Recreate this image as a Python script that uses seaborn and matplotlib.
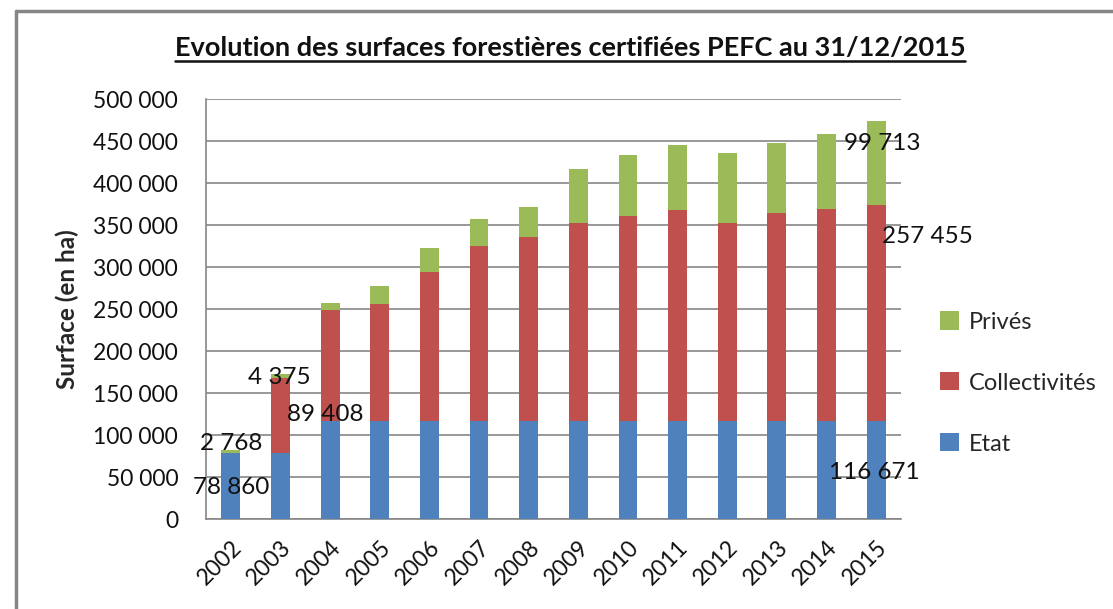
import matplotlib
matplotlib.use("Agg")
import matplotlib.pyplot as plt
from matplotlib.lines import Line2D
from matplotlib.patches import Patch
import numpy as np
import pandas as pd
import seaborn as sns

years = ["2002", "2003", "2004", "2005", "2006", "2007", "2008", "2009",
         "2010", "2011", "2012", "2013", "2014", "2015"]
etat = [78860, 78860, 116671, 116671, 116671, 116671, 116671, 116671,
        116671, 116671, 116671, 116671, 116671, 116671]
collectivites = [0, 89408, 132100, 139300, 177300, 208300, 219000, 235700,
                 244000, 251200, 235700, 247600, 252400, 257455]
prives = [2768, 4375, 8300, 21400, 28600, 32100, 35700, 64300,
          72600, 77300, 83300, 83300, 89200, 99713]
series_names = ["Privés", "Collectivités", "Etat"]
colors = {"Etat": "#4F81BD", "Collectivités": "#C0504D", "Privés": "#9BBB59"}
yticks = [0, 50000, 100000, 150000, 200000, 250000, 300000, 350000, 400000, 450000, 500000]

sns.set_theme(style="white")
plt.rcParams["font.family"] = ["Lato", "DejaVu Sans"]

df = pd.DataFrame({"year": years, "etat": etat, "coll": collectivites, "priv": prives})
df["lvl1"] = df["etat"]
df["lvl2"] = df["etat"] + df["coll"]
df["lvl3"] = df["lvl2"] + df["priv"]

fig = plt.figure(figsize=(11.13, 6.09), dpi=100)
ax = fig.add_axes([206 / 1113, 1 - 519 / 609, (901 - 206) / 1113, (519 - 99.3) / 609])

for col, name in [("lvl3", "Privés"), ("lvl2", "Collectivités"), ("lvl1", "Etat")]:
    sns.barplot(data=df, x="year", y=col, color=colors[name], width=0.38,
                saturation=1, ax=ax, zorder=3, edgecolor="none", linewidth=0)

ax.set_xlim(-0.5, len(years) - 0.5)
ax.set_ylim(0, 500000)
ax.set_yticks(yticks)
ax.set_yticklabels([f"{v:,}".replace(",", " ") for v in yticks], fontsize=16.5, color="#111111")
ax.set_xticks(range(len(years)))
ax.set_xticklabels(years, rotation=45, ha="right", rotation_mode="anchor", fontsize=16.5, color="#111111")
ax.set_xticks(np.arange(-0.5, len(years)), minor=True)
ax.tick_params(axis="x", which="major", length=0, pad=13)
ax.tick_params(axis="x", which="minor", length=7, width=1.2, color="#868686", direction="out")
ax.tick_params(axis="y", which="major", length=9, width=1.2, color="#868686", direction="out", pad=11)
ax.yaxis.grid(True, color="#868686", linewidth=1.2, zorder=0)
ax.set_axisbelow(True)
ax.set_xlabel("")
ax.set_ylabel("Surface (en ha)", fontsize=17.5, fontweight="bold", labelpad=10)
for s in ["top", "right"]:
    ax.spines[s].set_visible(False)
for s in ["left", "bottom"]:
    ax.spines[s].set_color("#868686")
    ax.spines[s].set_linewidth(1.2)

def fmt(v):
    return f"{v:,}".replace(",", " ")

lab_kw = dict(ha="center", va="center", fontsize=17.5, color="#111111", zorder=5)
ax.text(0, 38000, fmt(etat[0]), **lab_kw)
ax.text(0, 90500, fmt(prives[0]), **lab_kw)
ax.text(0.97, 168000, fmt(prives[1]), **lab_kw)
ax.text(1.9, 125000, fmt(collectivites[1]), **lab_kw)
ax.text(13.12, 447500, fmt(prives[13]), **lab_kw)
ax.text(14.03, 337000, fmt(collectivites[13]), **lab_kw)
ax.text(12.96, 55000, fmt(etat[13]), **lab_kw)

handles = [Patch(facecolor=colors[n], edgecolor="none") for n in series_names]
leg = fig.legend(handles, series_names, loc="center left", bbox_to_anchor=(919 / 1113, 1 - 383 / 609),
                 frameon=False, fontsize=17, handlelength=0.8, handleheight=0.8,
                 handletextpad=0.4, labelspacing=1.68)

title = fig.text(570 / 1113, 1 - 48 / 609, "Evolution des surfaces forestières certifiées PEFC au 31/12/2015",
                 ha="center", va="center", fontsize=19.5, fontweight="bold", color="#111111")
fig.canvas.draw()
bb = title.get_window_extent().transformed(fig.transFigure.inverted())
fig.add_artist(Line2D([bb.x0, bb.x1], [bb.y0 - 0.001, bb.y0 - 0.001], color="#111111", linewidth=1.8,
                      transform=fig.transFigure))

fig.add_artist(Line2D([16 / 1113, 1.0], [1 - 11 / 609, 1 - 11 / 609], color="#868686", linewidth=2.5,
                      transform=fig.transFigure))
fig.add_artist(Line2D([16 / 1113, 16 / 1113], [0.0, 1 - 11 / 609], color="#868686", linewidth=2.5,
                      transform=fig.transFigure))

fig.savefig("out.png", dpi=100, facecolor="white")
